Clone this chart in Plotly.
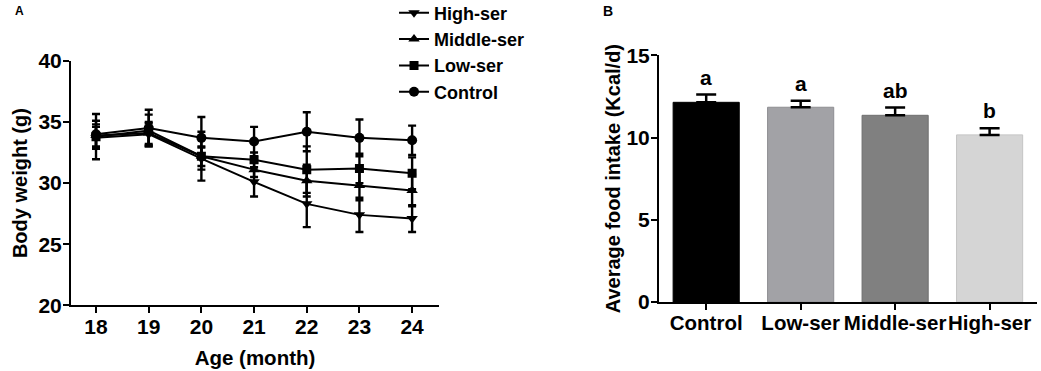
import plotly.graph_objects as go

# ---- Panel A data: body weight (g) by age (month) ----
ages = [18, 19, 20, 21, 22, 23, 24]
series_names = ["High-ser", "Middle-ser", "Low-ser", "Control"]
high_mean = [33.7, 34.0, 32.0, 30.1, 28.3, 27.4, 27.1]
high_err = [0.9, 0.9, 0.9, 1.2, 1.9, 1.4, 1.1]
middle_mean = [33.9, 34.1, 32.2, 31.1, 30.2, 29.8, 29.4]
middle_err = [0.9, 0.9, 0.8, 0.6, 1.3, 1.2, 1.3]
low_mean = [33.8, 34.3, 32.2, 31.9, 31.1, 31.2, 30.8]
low_err = [1.85, 1.3, 2.0, 0.6, 1.9, 1.2, 1.3]
control_mean = [34.0, 34.5, 33.7, 33.4, 34.2, 33.7, 33.5]
control_err = [1.1, 1.5, 1.7, 1.2, 1.6, 1.5, 1.2]

# ---- Panel B data: average food intake (Kcal/d) ----
groups = ["Control", "Low-ser", "Middle-ser", "High-ser"]
intake_mean = [12.14, 11.84, 11.35, 10.16]
intake_err = [0.47, 0.40, 0.47, 0.40]
sig_letters = ["a", "a", "ab", "b"]
bar_colors = ["#000000", "#a2a2a6", "#808080", "#d5d5d5"]
bar_edges = ["#000000", "#8e8e92", "#6e6e6e", "#c4c4c4"]

FONT = "Arial, 'Liberation Sans', Helvetica, sans-serif"
fig = go.Figure()

means = [high_mean, middle_mean, low_mean, control_mean]
errs = [high_err, middle_err, low_err, control_err]
symbols = ["triangle-down", "triangle-up", "square", "circle"]
sizes = [10, 10, 9, 10]
for name, m, e, sym, sz in zip(series_names, means, errs, symbols, sizes):
    fig.add_trace(go.Scatter(
        x=ages, y=m, name=name, mode="lines+markers",
        line=dict(color="black", width=2),
        marker=dict(symbol=sym, size=sz, color="black"),
        error_y=dict(type="data", array=e, visible=True, color="black",
                     thickness=2.4, width=4),
        xaxis="x", yaxis="y", legendgroup=name,
    ))

fig.add_trace(go.Bar(
    x=groups, y=intake_mean, width=0.7,
    marker=dict(color=bar_colors, line=dict(color=bar_edges, width=1)),
    error_y=dict(type="data", array=intake_err, arrayminus=[0] * 4,
                 symmetric=False, visible=True, color="black",
                 thickness=2.5, width=10),
    xaxis="x2", yaxis="y2", showlegend=False,
))

for g, m, e, t in zip(groups, intake_mean, intake_err, sig_letters):
    fig.add_annotation(x=g, y=m + e, text=t, xref="x2", yref="y2",
                       showarrow=False, yanchor="bottom", yshift=4,
                       font=dict(size=21, color="black", family=FONT, weight="bold"))

axis_common = dict(showline=True, linecolor="black", linewidth=2,
                   ticks="outside", ticklen=6, tickwidth=2, tickcolor="black",
                   showgrid=False, zeroline=False, automargin=False)


def tf(size):
    return dict(size=size, color="black", family=FONT, weight="bold")


fig.update_layout(
    width=1041, height=371,
    margin=dict(l=0, r=0, t=0, b=0, autoexpand=False),
    paper_bgcolor="white", plot_bgcolor="white",
    font=dict(family=FONT, color="black", weight="bold"),
    xaxis=dict(domain=[0.0682, 0.4217], range=[17.525, 24.51],
               tickvals=ages, anchor="y", tickfont=tf(21), tickangle=0,
               ticklabelstandoff=-5,
               title=dict(text="Age (month)", standoff=14, font=tf(20.5)),
               **axis_common),
    yaxis=dict(domain=[0.177, 0.836], range=[20, 40], dtick=5, anchor="x",
               tickfont=tf(21), ticklabelstandoff=-3,
               title=dict(text="Body weight (g)", standoff=5, font=tf(20)),
               **axis_common),
    xaxis2=dict(domain=[0.633, 0.996], range=[-0.5, 3.5], anchor="y2",
                type="category", tickfont=tf(20.5), tickangle=0,
                ticklabelstandoff=-5, **axis_common),
    yaxis2=dict(domain=[0.186, 0.851], range=[0, 15], dtick=5, anchor="x2",
                tickfont=tf(21), ticklabelstandoff=-3,
                title=dict(text="Average food intake (Kcal/d)", standoff=0,
                           font=tf(20)),
                **axis_common),
    legend=dict(x=0.3785, y=1.015, xanchor="left", yanchor="top",
                font=tf(18), bgcolor="rgba(0,0,0,0)", tracegroupgap=4,
                traceorder="normal"),
    showlegend=True,
    bargap=0.3,
)

fig.add_annotation(x=13 / 1041, y=1 - 2 / 371, xref="paper", yref="paper",
                   text="A", showarrow=False, xanchor="left", yanchor="top",
                   font=tf(12))
fig.add_annotation(x=601 / 1041, y=1 - 1 / 371, xref="paper", yref="paper",
                   text="B", showarrow=False, xanchor="left", yanchor="top",
                   font=tf(14))

fig.write_html("out.html",
               config={"displayModeBar": False},
               post_script="document.body.style.margin='0';"
                           "document.body.style.overflow='hidden';")
